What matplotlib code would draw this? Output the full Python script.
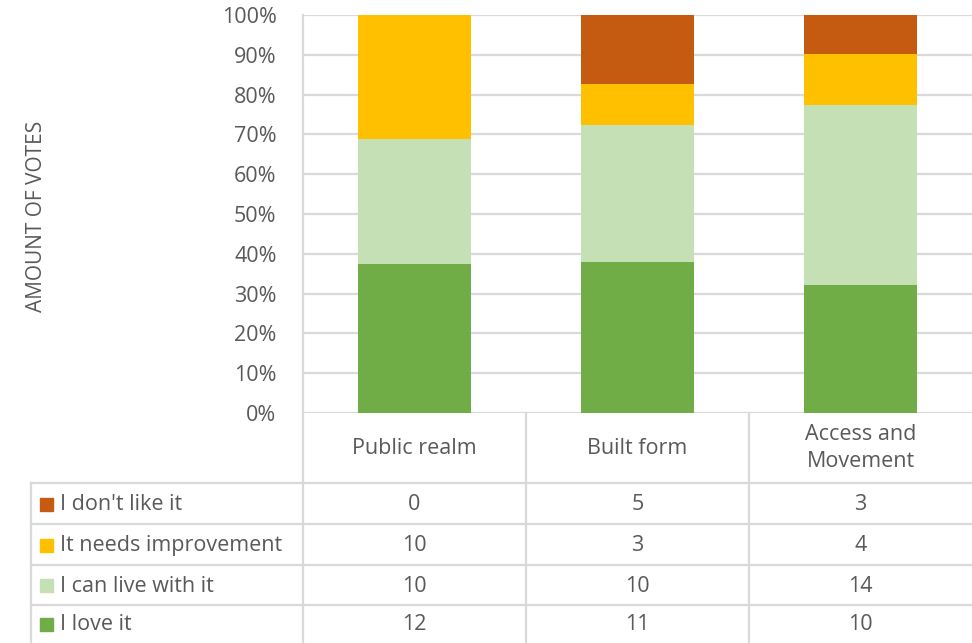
import matplotlib
matplotlib.use('Agg')
import matplotlib.pyplot as plt
import numpy as np

# data
categories = ["Public realm", "Built form", "Access and\nMovement"]
series = ["I love it", "I can live with it", "It needs improvement", "I don't like it"]
love = [12, 11, 10]
live = [10, 10, 14]
improve = [10, 3, 4]
dislike = [0, 5, 3]
colors = ["#70AD47", "#C5E0B4", "#FFC000", "#C55A11"]
yticks = [0, 10, 20, 30, 40, 50, 60, 70, 80, 90, 100]

plt.rcParams['font.family'] = ['Open Sans', 'DejaVu Sans']
txt = "#595959"
grid = "#D9D9D9"
fs = 15.5

W, H = 972, 643
fig = plt.figure(figsize=(W / 100, H / 100), dpi=100)

# layout in pixels
px_left, px_right = 303, 972
px_top, px_zero = 15, 413
col_w = (px_right - px_left) / 3
rows_y = [413, 483, 524, 565, 605, 643]
lab_left = 31

ax = fig.add_axes([px_left / W, 1 - px_zero / H, (px_right - px_left) / W, (px_zero - px_top) / H])
vals = np.array([love, live, improve, dislike], dtype=float)
pct = vals / vals.sum(axis=0) * 100
x = np.arange(len(categories))
bottom = np.zeros(len(categories))
for p, c in zip(pct, colors):
    ax.bar(x, p, 0.51, bottom=bottom, color=c, zorder=3)
    bottom += p
ax.set_xlim(-0.5, 2.5)
ax.set_ylim(0, 100)
ax.set_yticks(yticks)
ax.set_yticklabels([f"{t}%" for t in yticks], color=txt, fontsize=fs)
ax.set_xticks([])
ax.tick_params(axis='y', length=0, pad=19)
for s in ax.spines.values():
    s.set_visible(False)
for t in yticks:
    ax.axhline(t, color=grid, lw=1.6, zorder=1)
ax.set_ylabel("AMOUNT OF VOTES", color=txt, fontsize=15, labelpad=0)
ax.yaxis.set_label_coords(-(px_left - 47) / (px_right - px_left), (px_zero - 216) / (px_zero - px_top))

# data table
tab = fig.add_axes([0, 0, 1, 1])
tab.set_xlim(0, W)
tab.set_ylim(H, 0)
tab.axis('off')
lc = dict(color=grid, lw=1.6)
tab.plot([px_left, px_left], [px_top, H], **lc)
for i in range(1, 3):
    xc = px_left + i * col_w
    tab.plot([xc, xc], [px_zero, H], **lc)
tab.plot([lab_left, lab_left], [rows_y[1], H], **lc)
for yy in rows_y[1:-1]:
    tab.plot([lab_left, px_right], [yy, yy], **lc)

for i, cat in enumerate(categories):
    xc = px_left + (i + 0.5) * col_w
    tab.text(xc, (rows_y[0] + rows_y[1]) / 2, cat, ha='center', va='center',
             color=txt, fontsize=fs, linespacing=1.4)

# rows listed top to bottom: reverse stacking order
for r, si in enumerate(range(len(series) - 1, -1, -1)):
    yc = (rows_y[r + 1] + rows_y[r + 2]) / 2
    tab.add_patch(plt.Rectangle((40, yc - 6), 13, 13, color=colors[si]))
    tab.text(60, yc + 1, series[si], ha='left', va='center', color=txt, fontsize=fs)
    for i in range(len(categories)):
        xc = px_left + (i + 0.5) * col_w
        tab.text(xc, yc + 1, str(int(vals[si][i])), ha='center', va='center', color=txt, fontsize=fs)

fig.savefig("out.png", dpi=100)
